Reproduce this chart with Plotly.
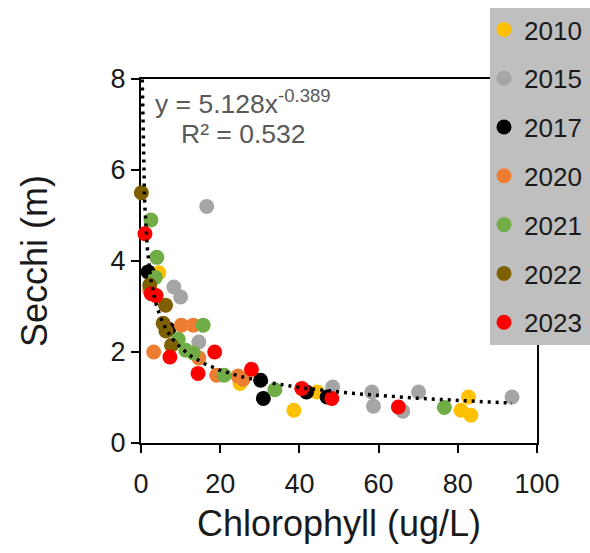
import numpy as np
import plotly.graph_objects as go

# Chlorophyll (ug/L) vs Secchi depth (m), grouped by sampling year
years = ["2010", "2015", "2017", "2020", "2021", "2022", "2023"]
colors = ["#FFC000", "#A5A5A5", "#000000", "#ED7D31", "#70AD47", "#7F6000", "#FF0000"]

chl_2010 = [4.5, 25.0, 38.6, 44.5, 82.7, 80.8, 83.3]
sec_2010 = [3.74, 1.31, 0.72, 1.12, 1.01, 0.72, 0.61]

chl_2015 = [16.6, 8.3, 10.0, 14.6, 48.4, 58.3, 58.7, 66.1, 70.1, 93.7]
sec_2015 = [5.2, 3.43, 3.21, 2.22, 1.23, 1.12, 0.81, 0.70, 1.12, 1.01]

chl_2017 = [1.8, 7.0, 30.2, 30.9, 41.8, 47.0]
sec_2017 = [3.76, 2.50, 1.38, 0.98, 1.12, 1.01]

chl_2020 = [2.2, 10.2, 13.2, 3.2, 14.6, 19.1, 24.5, 25.8]
sec_2020 = [3.35, 2.59, 2.59, 2.0, 1.87, 1.49, 1.47, 1.40]

chl_2021 = [2.5, 4.0, 3.6, 15.7, 9.4, 11.3, 13.2, 21.0, 33.8, 76.6]
sec_2021 = [4.9, 4.08, 3.64, 2.59, 2.28, 2.04, 1.98, 1.49, 1.17, 0.78]

chl_2022 = [0.1, 2.2, 6.2, 5.6, 6.3, 7.7]
sec_2022 = [5.5, 3.47, 3.03, 2.63, 2.46, 2.15]

chl_2023 = [1.0, 2.6, 3.8, 7.3, 18.6, 14.4, 27.9, 40.6, 48.2, 65.0]
sec_2023 = [4.6, 3.28, 3.24, 1.89, 2.0, 1.53, 1.62, 1.2, 0.98, 0.79]

chl = [chl_2010, chl_2015, chl_2017, chl_2020, chl_2021, chl_2022, chl_2023]
sec = [sec_2010, sec_2015, sec_2017, sec_2020, sec_2021, sec_2022, sec_2023]

# Power trendline y = a * x^b
fit_a, fit_b = 5.128, -0.389
fit_r2 = 0.532

x_ticks = [0, 20, 40, 60, 80, 100]
y_ticks = [0, 2, 4, 6, 8]

# Page geometry (px)
W, H = 590, 553
L, R, T, B = 141, 53, 79, 110
pw, ph = W - L - R, H - T - B


def px_x(px):
    return (px - L) / pw


def px_y(py):
    return (H - B - py) / ph


fig = go.Figure()

for yr, col, xs, ys in zip(years, colors, chl, sec):
    fig.add_trace(go.Scatter(
        x=xs, y=ys, mode="markers", name=yr, legendgroup=yr,
        marker=dict(color=col, size=15, line=dict(width=0)),
        cliponaxis=False,
    ))

all_x = [v for xs in chl for v in xs]
tx = np.geomspace(min(all_x), max(all_x), 400)
fig.add_trace(go.Scatter(
    x=tx, y=fit_a * tx ** fit_b, mode="lines", showlegend=False,
    line=dict(color="black", width=3.5, dash="3px,5px"),
    hoverinfo="skip",
))

font = "Liberation Sans, Arial, sans-serif"

fig.add_annotation(
    xref="paper", yref="paper", x=px_x(243), y=px_y(102),
    text=f"y = {fit_a:.3f}x<sup>{fit_b:.3f}</sup>", showarrow=False,
    font=dict(family=font, size=26.5, color="#595959"), xanchor="center", yanchor="middle",
)
fig.add_annotation(
    xref="paper", yref="paper", x=px_x(243), y=px_y(134),
    text=f"R² = {fit_r2:.3f}", showarrow=False,
    font=dict(family=font, size=26.5, color="#595959"), xanchor="center", yanchor="middle",
)

# Grey legend panel
fig.add_shape(
    type="rect", xref="paper", yref="paper",
    x0=px_x(490), x1=px_x(592), y0=px_y(345), y1=px_y(8),
    fillcolor="#BFBFBF", line=dict(width=0), layer="above",
)

axis_common = dict(
    showgrid=False, zeroline=False, showline=True, linecolor="black", linewidth=2,
    mirror=True, ticks="outside", ticklen=8, tickwidth=2, tickcolor="black",
    tickfont=dict(family=font, size=27, color="#1a1a1a"), layer="below traces",
)

fig.update_layout(
    width=W, height=H,
    margin=dict(l=L, r=R, t=T, b=B, autoexpand=False),
    paper_bgcolor="white", plot_bgcolor="white",
    font=dict(family=font),
    showlegend=True,
    legend=dict(
        xref="container", yref="container",
        x=484 / W, y=1 - 6 / H, xanchor="left", yanchor="top",
        bgcolor="rgba(0,0,0,0)", borderwidth=0,
        font=dict(family=font, size=26, color="#1a1a1a"),
        tracegroupgap=12, itemwidth=30, maxheight=H,
    ),
    xaxis=dict(
        range=[0, 100], tickvals=x_ticks, ticklabelstandoff=8,
        title=dict(text="Chlorophyll (ug/L)", font=dict(family=font, size=36, color="#1a1a1a"), standoff=12),
        **axis_common,
    ),
    yaxis=dict(
        range=[0, 8], tickvals=y_ticks,
        title=dict(text="Secchi (m)", font=dict(family=font, size=36, color="#1a1a1a"), standoff=52),
        **axis_common,
    ),
)

fig.write_html("out.html")
